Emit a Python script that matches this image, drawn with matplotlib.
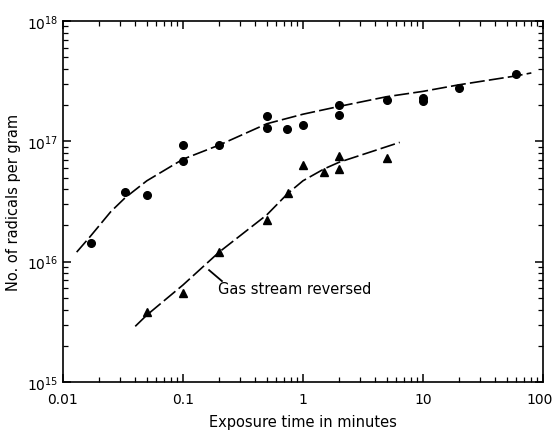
import matplotlib
matplotlib.use("Agg")
import matplotlib.pyplot as plt
import matplotlib.transforms as mtransforms
from matplotlib.ticker import LogLocator, NullFormatter, FixedLocator, FixedFormatter

# Circles (normal gas stream)
circ_x = [0.0171, 0.033, 0.05, 0.1, 0.1, 0.2, 0.5, 0.5, 0.74, 1.0, 2.0, 2.0, 5.0, 10.0, 10.0, 20.0, 60.0]
circ_y = [1.44e16, 3.8e16, 3.6e16, 9.3e16, 6.9e16, 9.4e16, 1.62e17, 1.3e17, 1.27e17, 1.36e17,
          2.0e17, 1.66e17, 2.2e17, 2.3e17, 2.15e17, 2.75e17, 3.6e17]

# Triangles (gas stream reversed)
tri_x = [0.05, 0.1, 0.2, 0.5, 0.75, 1.0, 1.5, 2.0, 2.0, 5.0]
tri_y = [3.8e15, 5.5e15, 1.2e16, 2.2e16, 3.7e16, 6.3e16, 5.6e16, 7.6e16, 5.9e16, 7.3e16]

# Hand-drawn curves
upper_x = [0.013, 0.0167, 0.025, 0.033, 0.05, 0.1, 0.2, 0.5, 1.0, 2.0, 5.0, 10.0, 20.0, 60.0, 80.0]
upper_y = [1.2e16, 1.6e16, 2.6e16, 3.4e16, 4.7e16, 7.1e16, 9.3e16, 1.4e17, 1.68e17, 1.95e17,
           2.35e17, 2.6e17, 2.95e17, 3.5e17, 3.7e17]
lower_x = [0.04, 0.05, 0.1, 0.2, 0.5, 0.75, 1.0, 1.5, 2.0, 4.0, 6.4]
lower_y = [2.9e15, 3.6e15, 6.4e15, 1.2e16, 2.45e16, 3.7e16, 4.7e16, 5.9e16, 6.7e16, 8.4e16, 9.8e16]

x_ticks = [0.01, 0.1, 1, 10, 100]
x_labels = ["0.01", "0.1", "1", "10", "100"]
y_ticks = [1e15, 1e16, 1e17, 1e18]
y_labels = [r"$10^{15}$", r"$10^{16}$", r"$10^{17}$", r"$10^{18}$"]

fig = plt.figure(figsize=(5.54, 4.31), dpi=100)
ax = fig.add_axes([0.1137, 0.1114, 0.8664, 0.8376])
ax.set_xscale("log")
ax.set_yscale("log")
ax.set_xlim(0.01, 100)
ax.set_ylim(1e15, 1e18)

dash = (0, (9, 2.5))
ax.plot(upper_x, upper_y, color="black", lw=1.2, linestyle=dash)
ax.plot(lower_x, lower_y, color="black", lw=1.2, linestyle=dash)
ax.plot(circ_x, circ_y, "o", color="black", markersize=5.5, linestyle="none")
ax.plot(tri_x, tri_y, "^", color="black", markersize=6, linestyle="none")

ax.plot([0.165, 0.211], [8.5e15, 6.9e15], color="black", lw=1.3)
ax.text(0.196, 5.95e15, "Gas stream reversed", fontsize=10.5, va="center", ha="left")

ax.xaxis.set_major_locator(FixedLocator(x_ticks))
ax.xaxis.set_major_formatter(FixedFormatter(x_labels))
ax.xaxis.set_minor_locator(LogLocator(base=10, subs=range(2, 10)))
ax.xaxis.set_minor_formatter(NullFormatter())
ax.yaxis.set_major_locator(FixedLocator(y_ticks))
ax.yaxis.set_major_formatter(FixedFormatter(y_labels))
ax.yaxis.set_minor_locator(LogLocator(base=10, subs=range(2, 10)))
ax.yaxis.set_minor_formatter(NullFormatter())

ax.tick_params(which="both", direction="in", top=True, right=True, labelsize=10, color="black")
ax.tick_params(which="major", length=6, width=1.1)
ax.tick_params(which="minor", length=3.5, width=0.9)
ax.tick_params(axis="x", which="major", pad=7)
for s in ax.spines.values():
    s.set_linewidth(1.2)

ax.set_xlabel("Exposure time in minutes", fontsize=10.5, labelpad=6)
ax.set_ylabel("No. of radicals per gram", fontsize=10.5, labelpad=4)

fig.canvas.draw()
last = ax.get_xticklabels()[-1]
last.set_transform(last.get_transform() + mtransforms.ScaledTranslation(-3 / 100, 0, fig.dpi_scale_trans))

fig.savefig("out.png", dpi=100)
